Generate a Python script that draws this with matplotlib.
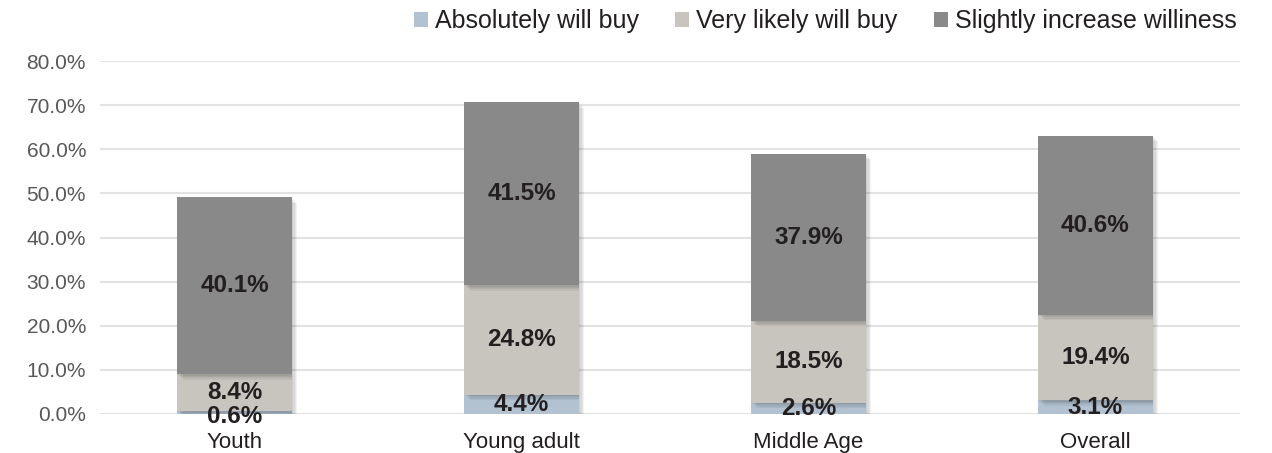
import matplotlib.pyplot as plt
import matplotlib.patheffects as pe
import numpy as np

plt.rcParams['font.family'] = ['Liberation Sans', 'DejaVu Sans']

groups = ["Youth", "Young adult", "Middle Age", "Overall"]
series = ["Absolutely will buy", "Very likely will buy", "Slightly increase williness"]
absolutely = [0.6, 4.4, 2.6, 3.1]
very_likely = [8.4, 24.8, 18.5, 19.4]
slightly = [40.1, 41.5, 37.9, 40.6]
y_ticks = [0, 10, 20, 30, 40, 50, 60, 70, 80]

colors = ["#b3c2d1", "#c8c5be", "#898989"]
text_dark = "#231f20"

fig = plt.figure(figsize=(12.72, 4.53), dpi=100)
ax = fig.add_axes([0.0786, 0.0861, 0.8962, 0.7792])

x = np.arange(len(groups))

# soft drop shadow: a few faint offset copies stacked under the bar
shadow = [pe.SimplePatchShadow(offset=(d, -d), shadow_rgbFace="#000000", alpha=0.05)
          for d in (1.0, 2.0, 3.0, 4.0)] + [pe.Normal()]

bottom = np.zeros(len(groups))
for vals, name, col in zip([absolutely, very_likely, slightly], series, colors):
    bars = ax.bar(x, vals, width=0.4, bottom=bottom, color=col, label=name, zorder=3)
    for b in bars:
        b.set_path_effects(shadow)
    for i, v in enumerate(vals):
        # nudge a very thin segment's label down a little so it clears the one above
        dy = -2.5 if v < 1 else 0
        ax.annotate("{:.1f}%".format(v), (x[i], bottom[i] + v / 2), xytext=(0, dy),
                    textcoords="offset points", ha="center", va="center",
                    fontsize=17.5, fontweight="bold", color=text_dark, zorder=5)
    bottom += np.array(vals)

ax.set_ylim(0, 80)
ax.set_xlim(-0.4686, 3.5035)
ax.set_yticks(y_ticks)
ax.set_yticklabels(["{:.1f}%".format(t) for t in y_ticks], fontsize=15, color="#595757")
ax.set_xticks(x)
ax.set_xticklabels(groups, fontsize=16, color=text_dark)
ax.tick_params(axis="y", length=0, pad=10)
ax.tick_params(axis="x", length=0, pad=13)
ax.yaxis.grid(True, color="#e3e3e3", linewidth=1.5, zorder=0)
ax.set_axisbelow(True)
for s in ax.spines.values():
    s.set_visible(False)

handles, labels = ax.get_legend_handles_labels()
leg = fig.legend(handles, labels, loc="center right", bbox_to_anchor=(1237 / 1272, 0.953),
                 ncol=3, frameon=False, fontsize=18, handlelength=0.55, handleheight=0.55,
                 handletextpad=0.3, columnspacing=1.45, borderaxespad=0, borderpad=0)
for h in leg.legend_handles:
    h.set_path_effects([])
for t in leg.get_texts():
    t.set_color(text_dark)

fig.savefig("out.png", dpi=100)
